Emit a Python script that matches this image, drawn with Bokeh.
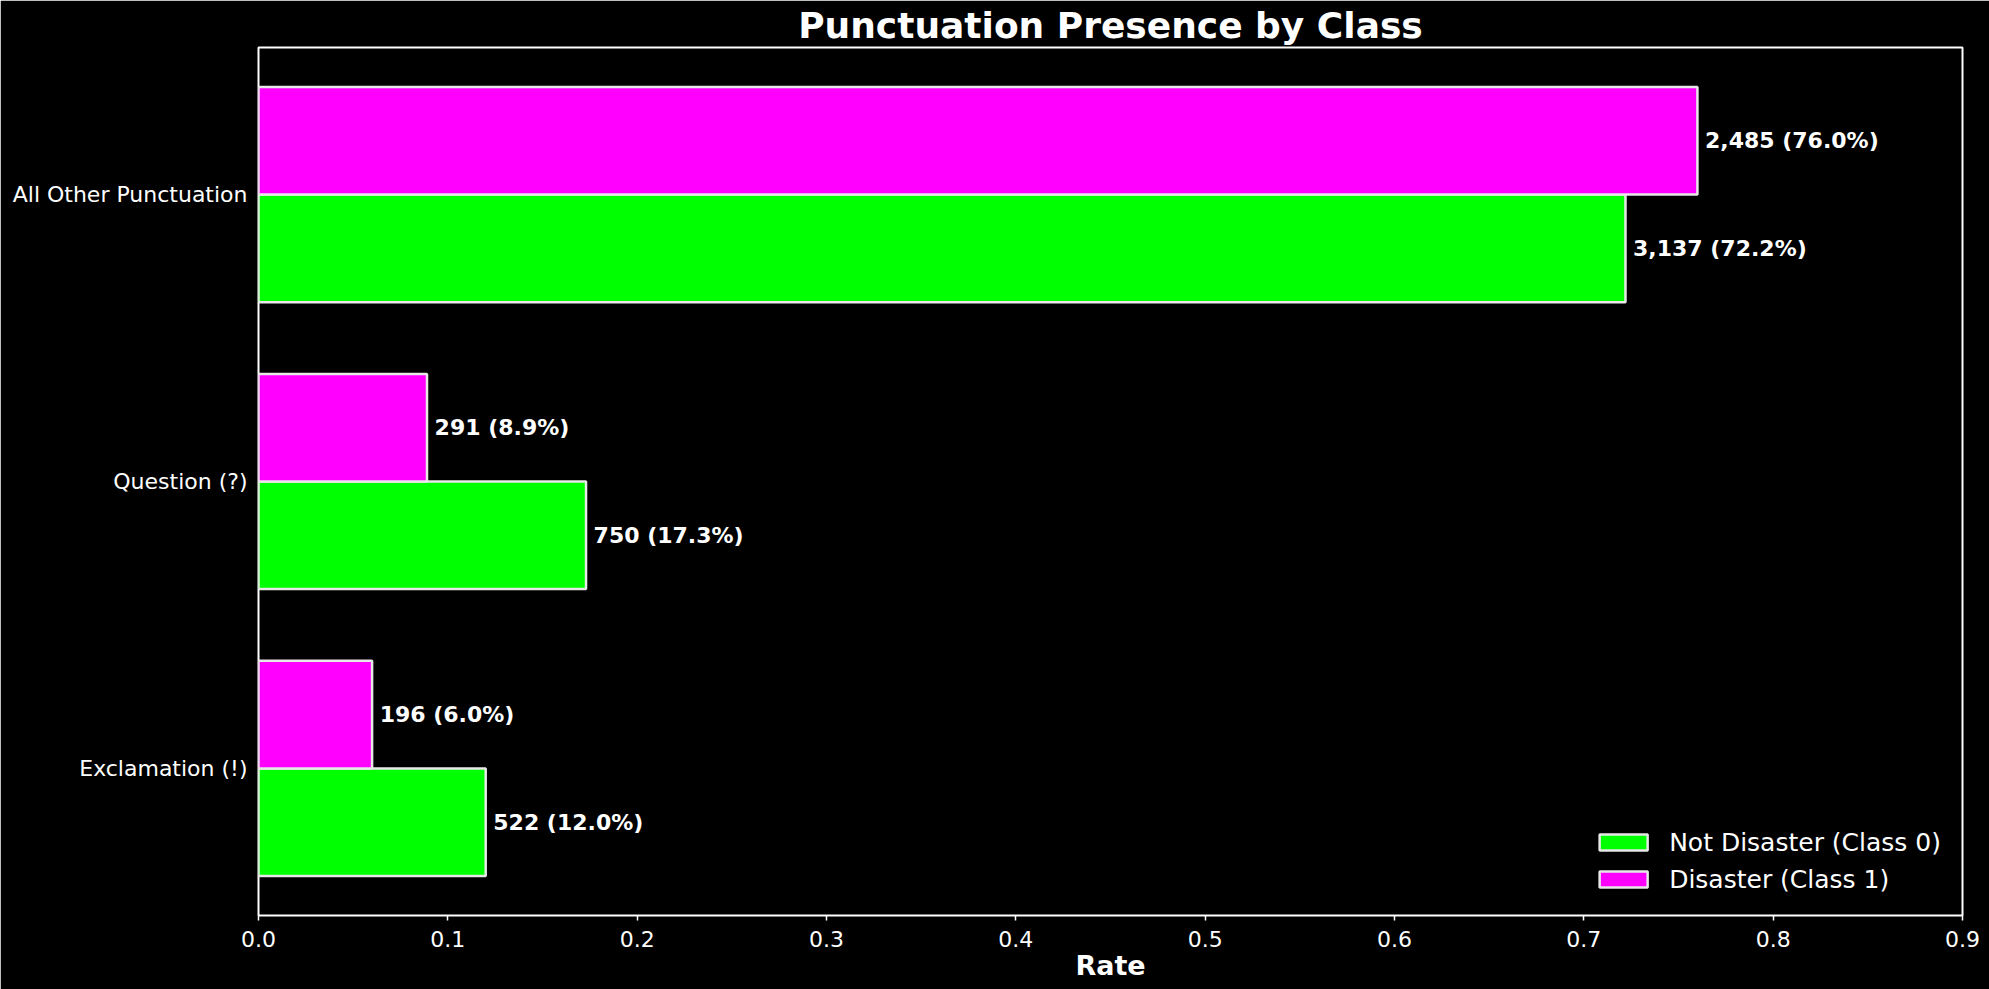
from bokeh.plotting import figure
from bokeh.models import Range1d, FixedTicker, ColumnDataSource, Legend, LegendItem
from bokeh.embed import file_html
from bokeh.resources import INLINE
from bokeh.core.properties import value

categories = ["Exclamation (!)", "Question (?)", "All Other Punctuation"]
class0_counts = [522, 750, 3137]
class0_rates = [0.120, 0.173, 0.722]
class1_counts = [196, 291, 2485]
class1_rates = [0.060, 0.089, 0.760]
x_ticks = [0.0, 0.1, 0.2, 0.3, 0.4, 0.5, 0.6, 0.7, 0.8, 0.9]

BAR_H = 0.375
FONT = "DejaVu Sans"

pos = list(range(len(categories)))
y0 = [p - BAR_H / 2 for p in pos]
y1 = [p + BAR_H / 2 for p in pos]

src0 = ColumnDataSource(dict(
    y=y0, r=class0_rates, tx=[r + 0.004 for r in class0_rates],
    lab=[f"{c:,} ({r*100:.1f}%)" for c, r in zip(class0_counts, class0_rates)]))
src1 = ColumnDataSource(dict(
    y=y1, r=class1_rates, tx=[r + 0.004 for r in class1_rates],
    lab=[f"{c:,} ({r*100:.1f}%)" for c, r in zip(class1_counts, class1_rates)]))

p = figure(width=1989, height=989, output_backend="svg", toolbar_location=None,
           x_range=Range1d(0, 0.9), y_range=Range1d(-0.5125, 2.5125),
           min_border_left=258, min_border_right=27, min_border_top=47, min_border_bottom=74)

p.background_fill_color = "black"
p.border_fill_color = "black"
p.outline_line_color = "white"
p.outline_line_width = 2
p.xgrid.visible = False
p.ygrid.visible = False

p.title.text = "Punctuation Presence by Class"
p.title.align = "center"
p.title.text_color = "white"
p.title.text_font = FONT
p.title.text_font_size = "36px"
p.title.text_font_style = "bold"
p.title.standoff = 4
p.title.offset = 0

r0 = p.hbar(y="y", height=BAR_H, left=0, right="r", source=src0,
            fill_color="#00ff00", line_color="#e8e8e8", line_width=2.5)
r1 = p.hbar(y="y", height=BAR_H, left=0, right="r", source=src1,
            fill_color="#ff00ff", line_color="#e8e8e8", line_width=2.5)

for s in (src0, src1):
    p.text(x="tx", y="y", text="lab", source=s, text_color="white",
           text_font=value(FONT), text_font_size="22px", text_font_style="bold",
           text_baseline="middle", text_align="left")

xa = p.xaxis[0]
xa.ticker = FixedTicker(ticks=x_ticks)
xa.major_label_overrides = {t: f"{t:.1f}" for t in x_ticks}
xa.axis_line_color = None
xa.major_tick_line_color = "white"
xa.major_tick_line_width = 1.5
xa.major_tick_out = 5
xa.major_tick_in = 0
xa.minor_tick_line_color = None
xa.major_label_text_color = "white"
xa.major_label_text_font = FONT
xa.major_label_text_font_size = "22px"
xa.major_label_standoff = 10
xa.axis_label = "Rate"
xa.axis_label_text_color = "white"
xa.axis_label_text_font = FONT
xa.axis_label_text_font_size = "27px"
xa.axis_label_text_font_style = "bold"
xa.axis_label_standoff = 0

ya = p.yaxis[0]
ya.ticker = FixedTicker(ticks=pos)
ya.major_label_overrides = {i: c for i, c in zip(pos, categories)}
ya.axis_line_color = None
ya.major_tick_line_color = None
ya.minor_tick_line_color = None
ya.major_label_text_color = "white"
ya.major_label_text_font = FONT
ya.major_label_text_font_size = "22px"
ya.major_label_standoff = 5

legend = Legend(items=[LegendItem(label="Not Disaster (Class 0)", renderers=[r0]),
                       LegendItem(label="Disaster (Class 1)", renderers=[r1])],
                location="bottom_right")
legend.background_fill_color = "black"
legend.background_fill_alpha = 0
legend.border_line_color = None
legend.label_text_color = "white"
legend.label_text_font = FONT
legend.label_text_font_size = "25px"
legend.glyph_width = 60
legend.glyph_height = 20
legend.label_height = 30
legend.label_standoff = 16
legend.spacing = 7
legend.padding = 8
legend.margin = 21
p.add_layout(legend, "center")

open("out.html", "w").write(file_html(p, INLINE))
